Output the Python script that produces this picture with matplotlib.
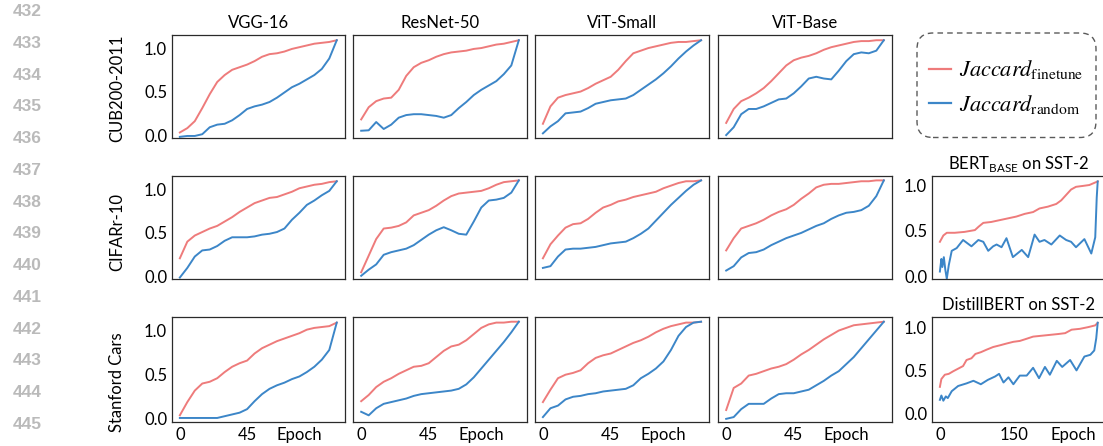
import numpy as np
import matplotlib
matplotlib.use('Agg')
import matplotlib.pyplot as plt
from matplotlib.lines import Line2D
from matplotlib.patches import FancyBboxPatch
from matplotlib.font_manager import FontProperties

plt.rcParams['font.family'] = ['Lato', 'DejaVu Sans']

# ---------------- data ----------------
models = ['VGG-16', 'ResNet-50', 'ViT-Small', 'ViT-Base']
datasets = ['CUB200-2011', 'CIFARr-10', 'Stanford Cars']
nlp_titles = [r'BERT$_{\mathregular{BASE}}$ on SST-2', 'DistillBERT on SST-2']
legend_labels = [r'$Jaccard_{\mathrm{finetune}}$', r'$Jaccard_{\mathrm{random}}$']
line_numbers = ['432', '433', '434', '435', '436', '437', '438', '439',
                '440', '441', '442', '443', '444', '445']

cv_xticks = [0, 45, 80]
cv_xticklabels = ['0', '45', 'Epoch']
nlp_xticks = [0, 150, 270]
nlp_xticklabels = ['0', '150', 'Epoch']
yticks = [0.0, 0.5, 1.0]
yticklabels = ['0.0', '0.5', '1.0']

epochs = [0, 5, 10, 15, 20, 25, 30, 35, 40, 45, 50, 55, 60, 65, 70, 75, 80,
          85, 90, 95, 100, 105]

# CUB200-2011
cub_vgg_ft = [0.03, 0.08, 0.16, 0.31, 0.47, 0.61, 0.69, 0.75, 0.78, 0.81, 0.85, 0.90, 0.93, 0.94, 0.96, 0.99, 1.01, 1.03, 1.05, 1.06, 1.07, 1.09]
cub_vgg_rd = [-0.02, -0.01, -0.01, 0.01, 0.09, 0.12, 0.13, 0.17, 0.23, 0.30, 0.33, 0.35, 0.38, 0.43, 0.49, 0.55, 0.59, 0.64, 0.69, 0.76, 0.88, 1.09]
cub_res_ft = [0.18, 0.32, 0.39, 0.42, 0.43, 0.52, 0.68, 0.78, 0.83, 0.86, 0.90, 0.93, 0.95, 0.96, 0.97, 0.99, 1.00, 1.02, 1.04, 1.05, 1.07, 1.09]
cub_res_rd = [0.05, 0.055, 0.15, 0.07, 0.12, 0.20, 0.23, 0.24, 0.24, 0.23, 0.22, 0.20, 0.23, 0.31, 0.38, 0.46, 0.52, 0.57, 0.62, 0.70, 0.80, 1.09]
cub_vits_ft = [0.13, 0.33, 0.43, 0.46, 0.48, 0.50, 0.54, 0.59, 0.63, 0.67, 0.75, 0.85, 0.94, 0.97, 1.00, 1.02, 1.04, 1.06, 1.07, 1.07, 1.08, 1.09]
cub_vits_rd = [0.02, 0.10, 0.16, 0.25, 0.26, 0.27, 0.31, 0.36, 0.38, 0.40, 0.41, 0.42, 0.46, 0.52, 0.58, 0.64, 0.71, 0.79, 0.88, 0.96, 1.03, 1.09]
cub_vitb_ft = [0.14, 0.30, 0.39, 0.43, 0.48, 0.54, 0.62, 0.71, 0.80, 0.86, 0.89, 0.91, 0.94, 0.98, 1.01, 1.03, 1.05, 1.07, 1.08, 1.08, 1.09, 1.09]
cub_vitb_rd = [0.00, 0.09, 0.24, 0.30, 0.30, 0.33, 0.37, 0.41, 0.42, 0.48, 0.56, 0.65, 0.67, 0.65, 0.64, 0.74, 0.85, 0.93, 0.95, 0.94, 0.97, 1.09]

# CIFAR-10
cif_vgg_ft = [0.21, 0.40, 0.47, 0.51, 0.55, 0.58, 0.63, 0.68, 0.74, 0.79, 0.84, 0.87, 0.90, 0.91, 0.94, 0.97, 1.01, 1.03, 1.05, 1.06, 1.08, 1.09]
cif_vgg_rd = [-0.01, 0.10, 0.23, 0.30, 0.31, 0.35, 0.41, 0.45, 0.45, 0.45, 0.46, 0.48, 0.49, 0.51, 0.55, 0.65, 0.73, 0.82, 0.87, 0.93, 0.98, 1.09]
cif_res_ft = [0.05, 0.24, 0.43, 0.55, 0.56, 0.58, 0.62, 0.70, 0.73, 0.76, 0.81, 0.87, 0.92, 0.95, 0.96, 0.97, 0.98, 1.01, 1.05, 1.08, 1.09, 1.10]
cif_res_rd = [0.01, 0.08, 0.14, 0.25, 0.28, 0.30, 0.32, 0.36, 0.42, 0.48, 0.53, 0.565, 0.53, 0.49, 0.48, 0.63, 0.79, 0.87, 0.88, 0.90, 0.96, 1.10]
cif_vits_ft = [0.21, 0.37, 0.47, 0.56, 0.60, 0.61, 0.66, 0.73, 0.79, 0.82, 0.86, 0.88, 0.91, 0.93, 0.95, 0.97, 1.01, 1.04, 1.07, 1.09, 1.09, 1.10]
cif_vits_rd = [0.10, 0.12, 0.23, 0.31, 0.32, 0.32, 0.33, 0.34, 0.36, 0.38, 0.39, 0.40, 0.44, 0.49, 0.55, 0.64, 0.73, 0.82, 0.90, 0.98, 1.05, 1.10]
cif_vitb_ft = [0.30, 0.44, 0.55, 0.58, 0.61, 0.65, 0.70, 0.74, 0.77, 0.82, 0.89, 0.95, 1.02, 1.05, 1.06, 1.06, 1.07, 1.08, 1.09, 1.09, 1.10, 1.10]
cif_vitb_rd = [0.07, 0.12, 0.22, 0.27, 0.28, 0.31, 0.36, 0.40, 0.44, 0.47, 0.50, 0.54, 0.58, 0.61, 0.66, 0.70, 0.73, 0.74, 0.76, 0.81, 0.92, 1.10]

# Stanford Cars
car_vgg_ft = [0.04, 0.19, 0.32, 0.40, 0.42, 0.46, 0.53, 0.59, 0.63, 0.66, 0.74, 0.80, 0.84, 0.88, 0.91, 0.94, 0.97, 1.01, 1.03, 1.04, 1.05, 1.09]
car_vgg_rd = [0.01, 0.01, 0.01, 0.01, 0.01, 0.01, 0.03, 0.05, 0.07, 0.11, 0.20, 0.28, 0.34, 0.38, 0.41, 0.45, 0.48, 0.53, 0.59, 0.67, 0.78, 1.09]
car_res_ft = [0.20, 0.27, 0.36, 0.42, 0.46, 0.51, 0.55, 0.59, 0.60, 0.63, 0.70, 0.77, 0.82, 0.84, 0.89, 0.96, 1.03, 1.07, 1.09, 1.09, 1.10, 1.10]
car_res_rd = [0.08, 0.04, 0.12, 0.17, 0.19, 0.21, 0.23, 0.26, 0.28, 0.29, 0.30, 0.31, 0.32, 0.34, 0.39, 0.47, 0.57, 0.67, 0.77, 0.87, 0.98, 1.10]
car_vits_ft = [0.19, 0.33, 0.46, 0.50, 0.52, 0.55, 0.63, 0.69, 0.72, 0.74, 0.78, 0.82, 0.86, 0.89, 0.93, 0.98, 1.02, 1.05, 1.07, 1.09, 1.09, 1.10]
car_vits_rd = [0.02, 0.12, 0.15, 0.22, 0.25, 0.26, 0.28, 0.29, 0.31, 0.32, 0.33, 0.34, 0.38, 0.46, 0.51, 0.57, 0.65, 0.78, 0.94, 1.04, 1.09, 1.10]
car_vitb_ft = [0.10, 0.35, 0.40, 0.49, 0.51, 0.54, 0.57, 0.59, 0.62, 0.67, 0.73, 0.78, 0.84, 0.90, 0.95, 1.00, 1.03, 1.06, 1.07, 1.08, 1.09, 1.10]
car_vitb_rd = [0.00, 0.02, 0.11, 0.17, 0.17, 0.17, 0.23, 0.28, 0.29, 0.29, 0.31, 0.33, 0.38, 0.43, 0.49, 0.54, 0.62, 0.70, 0.80, 0.90, 1.00, 1.10]

# BERT-base on SST-2
bert_ft_x = [0, 7, 14, 30, 50, 71, 79, 88, 104, 121, 138, 155, 172, 189, 202, 219, 236, 246, 256, 266, 276, 290, 303, 320]
bert_ft = [0.38, 0.45, 0.48, 0.48, 0.49, 0.51, 0.55, 0.59, 0.60, 0.62, 0.64, 0.66, 0.69, 0.71, 0.75, 0.77, 0.80, 0.84, 0.90, 0.96, 0.99, 1.00, 1.01, 1.05]
bert_rd_x = [0, 3, 5, 8, 11, 14, 18, 24, 34, 47, 64, 78, 88, 98, 108, 115, 125, 135, 148, 166, 179, 192, 202, 212, 226, 243, 256, 266, 276, 293, 307, 315, 318, 320]
bert_rd = [0.05, 0.19, 0.10, 0.21, 0.07, -0.03, 0.12, 0.28, 0.31, 0.40, 0.33, 0.40, 0.38, 0.28, 0.33, 0.35, 0.32, 0.42, 0.21, 0.29, 0.21, 0.46, 0.38, 0.40, 0.35, 0.45, 0.40, 0.38, 0.32, 0.41, 0.25, 0.43, 0.87, 1.05]

# DistillBERT on SST-2
dist_ft_x = [0, 3, 10, 18, 27, 37, 47, 54, 64, 72, 83, 95, 108, 122, 135, 149, 162, 173, 189, 206, 223, 240, 254, 267, 284, 301, 315, 320]
dist_ft = [0.31, 0.40, 0.45, 0.46, 0.49, 0.52, 0.55, 0.62, 0.64, 0.69, 0.71, 0.74, 0.77, 0.79, 0.81, 0.83, 0.84, 0.86, 0.89, 0.90, 0.91, 0.92, 0.93, 0.97, 0.98, 1.00, 1.02, 1.05]
dist_rd_x = [0, 3, 7, 12, 16, 24, 37, 54, 68, 83, 97, 112, 120, 129, 139, 149, 162, 176, 189, 201, 213, 223, 237, 248, 264, 277, 293, 305, 313, 317, 320]
dist_rd = [0.16, 0.21, 0.15, 0.20, 0.18, 0.26, 0.32, 0.35, 0.38, 0.34, 0.39, 0.43, 0.46, 0.36, 0.42, 0.34, 0.44, 0.44, 0.53, 0.41, 0.54, 0.45, 0.61, 0.54, 0.62, 0.50, 0.66, 0.68, 0.73, 0.87, 1.05]

finetune_rows = [[cub_vgg_ft, cub_res_ft, cub_vits_ft, cub_vitb_ft],
                 [cif_vgg_ft, cif_res_ft, cif_vits_ft, cif_vitb_ft],
                 [car_vgg_ft, car_res_ft, car_vits_ft, car_vitb_ft]]
random_rows = [[cub_vgg_rd, cub_res_rd, cub_vits_rd, cub_vitb_rd],
               [cif_vgg_rd, cif_res_rd, cif_vits_rd, cif_vitb_rd],
               [car_vgg_rd, car_res_rd, car_vits_rd, car_vitb_rd]]

# ---------------- style / layout ----------------
W, H = 1103, 446
RED = '#EE7B7B'
BLUE = '#3C86C8'
SPINE = '#2a2a2a'
LW = 1.4
FS = 12

col_left = [172.0, 353.3, 535.0, 718.3, 932.0]
col_w = [172.6, 173.4, 174.0, 173.4, 173.6]
row_top = [35.0, 176.0, 317.3]
row_h = [102.7, 103.3, 104.2]
ylab_y = [0.485, 0.46, 0.38]

fig = plt.figure(figsize=(W / 100, H / 100), dpi=100)


def add_ax(l, t, w, h):
    return fig.add_axes([l / W, 1 - (t + h) / H, w / W, h / H])


def style(ax):
    for s in ax.spines.values():
        s.set_color(SPINE)
        s.set_linewidth(0.9)
    ax.tick_params(axis='both', length=0, labelsize=FS)
    ax.tick_params(axis='y', pad=3.5)
    ax.tick_params(axis='x', pad=4)


for r in range(3):
    for c in range(4):
        ax = add_ax(col_left[c], row_top[r], col_w[c], row_h[r])
        ax.plot(epochs, finetune_rows[r][c], color=RED, lw=LW)
        ax.plot(epochs, random_rows[r][c], color=BLUE, lw=LW)
        ax.set_xlim(-5.25, 110.25)
        ax.set_ylim(-0.03, 1.15)
        style(ax)
        if c == 0:
            ax.set_yticks(yticks)
            ax.set_yticklabels(yticklabels)
            ax.set_ylabel(datasets[r], fontsize=FS)
            ax.yaxis.set_label_coords(-0.27, ylab_y[r])
        else:
            ax.set_yticks([])
        if r == 2:
            ax.set_xticks(cv_xticks)
            ax.set_xticklabels(cv_xticklabels)
        else:
            ax.set_xticks([])
        if r == 0:
            ax.set_title(models[c], fontsize=FS, pad=5)

# NLP panels
nlp_data = [(bert_ft_x, bert_ft, bert_rd_x, bert_rd, (-0.036, 1.11)),
            (dist_ft_x, dist_ft, dist_rd_x, dist_rd, (-0.09, 1.113))]
for i, (fx, fy, rx, ry, yl) in enumerate(nlp_data):
    r = i + 1
    ax = add_ax(col_left[4], row_top[r], col_w[4], row_h[r])
    ax.plot(fx, fy, color=RED, lw=LW)
    ax.plot(rx, ry, color=BLUE, lw=LW)
    ax.set_xlim(-16, 336)
    ax.set_ylim(*yl)
    style(ax)
    ax.set_yticks(yticks)
    ax.set_yticklabels(yticklabels)
    if r == 2:
        ax.set_xticks(nlp_xticks)
        ax.set_xticklabels(nlp_xticklabels)
    else:
        ax.set_xticks([])
    ax.set_title(nlp_titles[i], fontsize=FS, pad=5)

# Legend box (dashed, rounded)
box = FancyBboxPatch((9.17, (H - 137.5) / 100), 1.79, 1.045,
                     boxstyle='round,pad=0,rounding_size=0.16',
                     transform=fig.dpi_scale_trans, fill=False,
                     edgecolor='#5a5a5a', linewidth=1.0,
                     linestyle=(0, (4, 3)))
fig.add_artist(box)
handles = [Line2D([], [], color=RED, lw=1.6), Line2D([], [], color=BLUE, lw=1.6)]
fig.legend(handles, legend_labels, loc='center',
           bbox_to_anchor=(1006 / W, 1 - 87 / H), frameon=False,
           prop=FontProperties(size=16, math_fontfamily='stix'),
           handlelength=1.0, handletextpad=0.35, labelspacing=0.5)

# Line numbers in the page margin
for k, lab in enumerate(line_numbers):
    fig.text(27 / W, 1 - (11.7 + 31.74 * k) / H, lab, ha='center', va='center',
             fontsize=12.5, fontweight='bold', color='#BABABA',
             family=['Liberation Sans', 'DejaVu Sans'])

fig.savefig('out.png', dpi=100)
